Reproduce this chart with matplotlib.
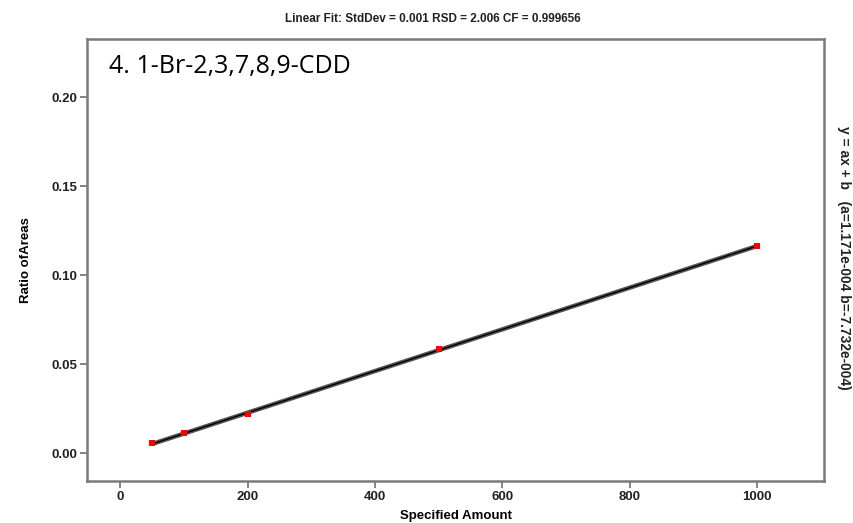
import matplotlib as mplt
mplt.use("Agg")
import matplotlib.pyplot as plt
import numpy as np

plt.rcParams['font.family'] = ['Liberation Sans', 'DejaVu Sans']

# calibration standards
amount = [50, 100, 200, 500, 1000]
ratio = [0.0056, 0.0112, 0.0219, 0.0584, 0.1163]

# fitted line y = a*x + b
fit_a = 1.171e-4
fit_b = -7.732e-4

x_ticks = [0, 200, 400, 600, 800, 1000]
y_ticks = [0.00, 0.05, 0.10, 0.15, 0.20]

SPINE = '#7a7a7a'

fig = plt.figure(figsize=(8.54, 5.23), dpi=100)
ax = fig.add_axes([0.1019, 0.0803, 0.863, 0.8451])

xf = np.array([amount[0], amount[-1]])
ax.plot(xf, fit_a * xf + fit_b, color='#555555', linewidth=3.2, solid_capstyle='butt', zorder=2)
ax.plot(xf, fit_a * xf + fit_b, color='black', linewidth=1.0, solid_capstyle='butt', zorder=3)
ax.plot(amount, ratio, 's', color='red', markersize=4.6, markeredgewidth=0, zorder=4)

ax.set_xlim(-52, 1105)
ax.set_ylim(-0.0157, 0.2326)
ax.set_xticks(x_ticks)
ax.set_yticks(y_ticks)
ax.set_xticklabels([str(t) for t in x_ticks])
ax.set_yticklabels([f'{t:.2f}' for t in y_ticks])

for s in ax.spines.values():
    s.set_color(SPINE)
    s.set_linewidth(1.8)
ax.tick_params(direction='out', length=5, width=1.3, color=SPINE,
               labelsize=9.5, labelcolor='#222222', pad=2)
for lbl in ax.get_xticklabels() + ax.get_yticklabels():
    lbl.set_fontweight('bold')

ax.set_xlabel('Specified Amount', fontsize=9.5, fontweight='bold', labelpad=5)
ax.set_ylabel('Ratio ofAreas', fontsize=9.5, fontweight='bold', labelpad=14)

fig.text(0.507, 0.963, 'Linear Fit: StdDev = 0.001 RSD = 2.006 CF = 0.999656',
         ha='center', va='center', fontsize=8.5, fontweight='bold', color='#222222')
ax.text(0.03, 0.965, '4. 1-Br-2,3,7,8,9-CDD', transform=ax.transAxes,
        ha='left', va='top', fontsize=18, color='black', family=['Open Sans', 'DejaVu Sans'])
fig.text(0.988, 0.507, 'y = ax + b   (a=1.171e-004 b=-7.732e-004)', rotation=-90,
         ha='center', va='center', fontsize=9.9, fontweight='bold', color='#222222')

fig.savefig('out.png', dpi=100)
